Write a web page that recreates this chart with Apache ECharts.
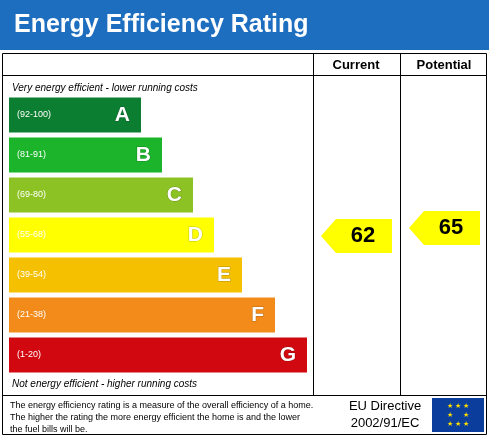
<!DOCTYPE html><html><head><meta charset="utf-8">
<script src="https://cdn.jsdelivr.net/npm/echarts@6/dist/echarts.min.js"></script>
<style>html,body{margin:0;padding:0;background:#fff}#c{width:489px;height:437px}</style></head><body><div id="c"></div>
<script>
const bands=['A','B','C','D','E','F','G'];
const ranges=['(92-100)','(81-91)','(69-80)','(55-68)','(39-54)','(21-38)','(1-20)'];
const barLengths=[132,153,184,205,233,266,298];
const colors=['#0c7e31','#1bb42b','#8cc223','#ffff00','#f5c000','#f38b1b','#d1080f'];
const currentRating=62, potentialRating=65;
const F='Liberation Sans, Arial, sans-serif';
const chart=echarts.init(document.getElementById('c'));
function arrow(params,api){
  const y=api.coord([0,api.value(1)])[1]+api.value(3);
  const x0=api.value(2);
  const h=34;
  return {type:'group',children:[
    {type:'polygon',shape:{points:[[x0,y],[x0+15,y-h/2],[x0+71,y-h/2],[x0+71,y+h/2],[x0+15,y+h/2]]},style:{fill:'#ffff00'}},
    {type:'text',style:{text:String(api.value(0)),x:x0+42,y:y,align:'center',verticalAlign:'middle',font:'bold 22px '+F,fill:'#000'}}
  ]};
}
chart.setOption({
  animation:false,
  grid:{left:9,top:95,width:304,height:280},
  xAxis:{type:'value',min:0,max:304,show:false},
  yAxis:{type:'category',data:bands,inverse:true,show:false},
  graphic:[
    {type:'rect',shape:{x:0,y:0,width:489,height:50},style:{fill:'#1e6ec0'}},
    {type:'text',style:{text:'Energy Efficiency Rating',x:14,y:25,verticalAlign:'middle',font:'bold 25px '+F,fill:'#fff'}},
    {type:'rect',shape:{x:2.5,y:53.5,width:484,height:381},style:{fill:'none',stroke:'#000',lineWidth:1}},
    {type:'line',shape:{x1:2,y1:75.5,x2:487,y2:75.5},style:{stroke:'#000'}},
    {type:'line',shape:{x1:2,y1:395.5,x2:487,y2:395.5},style:{stroke:'#000'}},
    {type:'line',shape:{x1:313.5,y1:53,x2:313.5,y2:395},style:{stroke:'#000'}},
    {type:'line',shape:{x1:400.5,y1:53,x2:400.5,y2:395},style:{stroke:'#000'}},
    {type:'text',style:{text:'Current',x:356,y:65,align:'center',verticalAlign:'middle',font:'bold 13px '+F,fill:'#000'}},
    {type:'text',style:{text:'Potential',x:444,y:65,align:'center',verticalAlign:'middle',font:'bold 13px '+F,fill:'#000'}},
    {type:'text',style:{text:'Very energy efficient - lower running costs',x:12,y:88,verticalAlign:'middle',font:'italic 10px '+F,fill:'#000'}},
    {type:'text',style:{text:'Not energy efficient - higher running costs',x:12,y:384,verticalAlign:'middle',font:'italic 10px '+F,fill:'#000'}},
    {type:'text',style:{text:'The energy efficiency rating is a measure of the overall efficiency of a home.\nThe higher the rating the more energy efficient the home is and the lower\nthe fuel bills will be.',x:10,y:400,font:'9px '+F,lineHeight:12,fill:'#000'}},
    {type:'text',style:{text:'EU Directive\n2002/91/EC',x:385,y:415,align:'center',verticalAlign:'middle',font:'13px '+F,lineHeight:17,fill:'#000'}},
    {type:'rect',shape:{x:432,y:398,width:52,height:34},style:{fill:'#0a3d9c'}},
    {type:'text',style:{text:'★ ★ ★\n★     ★\n★ ★ ★',x:458,y:415,align:'center',verticalAlign:'middle',font:'7px '+F,lineHeight:9,fill:'#ffdd00'}}
  ],
  series:[
    {type:'bar',barWidth:35,data:barLengths.map((v,i)=>({value:v,itemStyle:{color:colors[i]}})),
     label:{show:true,position:'insideLeft',offset:[3,0],formatter:p=>'{r|'+ranges[p.dataIndex]+'}',rich:{r:{fontSize:9,color:'#fff',fontFamily:F}}}},
    {type:'bar',barWidth:35,barGap:'-100%',data:barLengths,itemStyle:{color:'transparent'},silent:true,
     label:{show:true,position:'insideRight',offset:[-6,0],formatter:p=>bands[p.dataIndex],fontSize:21,fontWeight:'bold',color:'#fff',fontFamily:F,textBorderColor:'rgba(0,0,0,0.25)',textBorderWidth:1}},
    {type:'custom',renderItem:arrow,data:[[currentRating,'D',321,1],[potentialRating,'D',409,-7]],z:5}
  ]
});
</script></body></html>
